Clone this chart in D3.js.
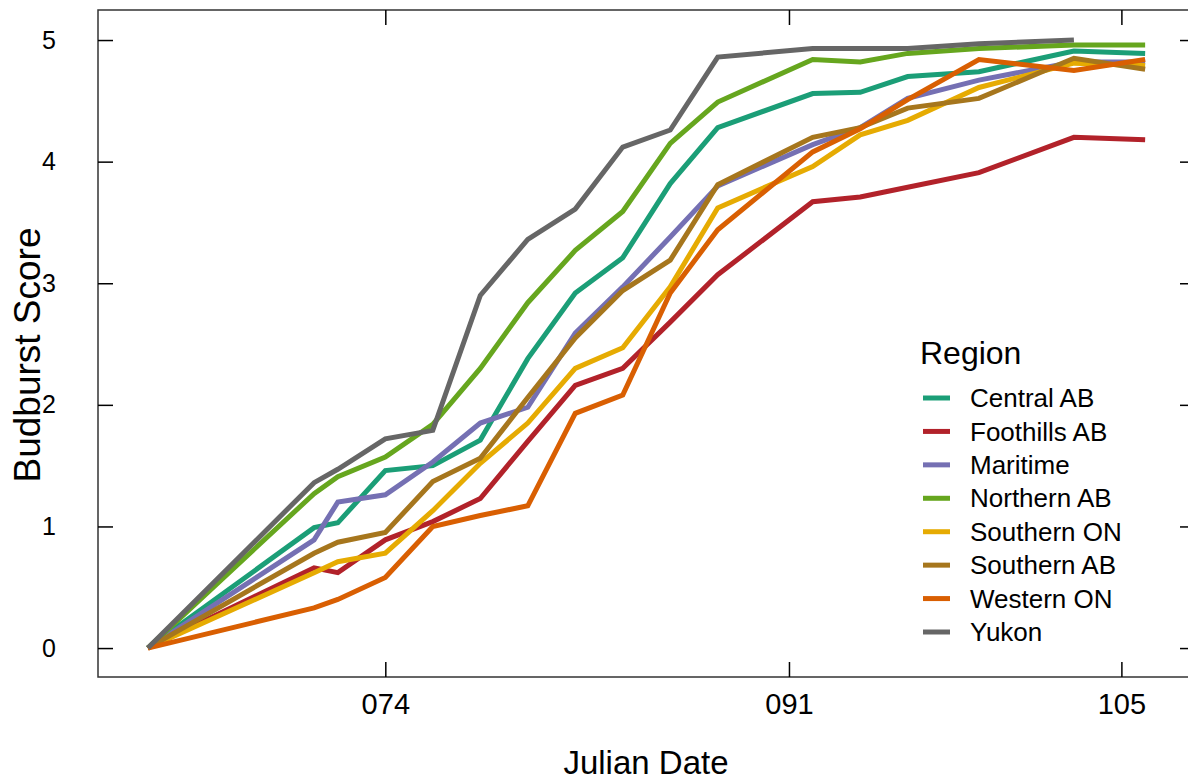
<!DOCTYPE html>
<html>
<head>
<meta charset="utf-8">
<script src="https://cdn.jsdelivr.net/npm/d3@7"></script>
<style>
  body { margin: 0; background: #fff; }
  text { font-family: "Liberation Sans", Arial, sans-serif; }
</style>
</head>
<body>
<svg id="chart"></svg>
<script>
var width = 1188;
var height = 782;
var frame = {left: 98, right: 1195, top: 10, bottom: 677};

// Julian days where budburst was scored
var days = [64, 71, 72, 74, 76, 78, 80, 82, 84, 86, 88, 92, 94, 96, 99, 103, 106];
var xTicks = [74, 91, 105];
var xTickLabels = ["074", "091", "105"];
var yTicks = [0, 1, 2, 3, 4, 5];

var regions = ["Central AB", "Foothills AB", "Maritime", "Northern AB",
               "Southern ON", "Southern AB", "Western ON", "Yukon"];
var colors = ["#1b9e77", "#b2222a", "#7570b3", "#66a61e",
              "#e6ab02", "#a6761d", "#d95f02", "#666666"];

// mean score per region, one value per day (null = not scored)
var centralAB   = [0, 0.99, 1.03, 1.46, 1.50, 1.71, 2.38, 2.92, 3.21, 3.82, 4.28, 4.56, 4.57, 4.70, 4.74, 4.91, 4.89];
var foothillsAB = [0, 0.66, 0.62, 0.89, 1.04, 1.23, 1.70, 2.16, 2.30, 2.68, 3.07, 3.67, 3.71, 3.79, 3.91, 4.20, 4.18];
var maritime    = [0, 0.89, 1.20, 1.26, 1.53, 1.85, 1.98, 2.59, 2.97, 3.38, 3.80, 4.14, 4.28, 4.52, 4.67, 4.82, 4.82];
var northernAB  = [0, 1.27, 1.41, 1.57, 1.84, 2.30, 2.84, 3.27, 3.59, 4.15, 4.49, 4.84, 4.82, 4.89, 4.93, 4.96, 4.96];
var southernON  = [0, 0.62, 0.71, 0.78, 1.13, 1.52, 1.85, 2.30, 2.47, 2.97, 3.62, 3.96, 4.22, 4.34, 4.61, 4.81, 4.79];
var southernAB  = [0, 0.78, 0.87, 0.95, 1.37, 1.56, 2.06, 2.55, 2.94, 3.19, 3.81, 4.20, 4.28, 4.44, 4.52, 4.85, 4.76];
var westernON   = [0, 0.33, 0.40, 0.58, 1.00, 1.09, 1.17, 1.93, 2.08, 2.92, 3.44, 4.08, 4.27, 4.51, 4.84, 4.75, 4.84];
var yukon       = [0, 1.36, 1.47, 1.72, 1.79, 2.90, 3.36, 3.61, 4.12, 4.26, 4.86, 4.93, 4.93, 4.93, 4.97, 5.00, null];

var seriesValues = [centralAB, foothillsAB, maritime, northernAB,
                    southernON, southernAB, westernON, yukon];

var x = d3.scaleLinear().domain([61.9, 108.1]).range([frame.left, frame.right]);
var y = d3.scaleLinear().domain([-0.238, 5.247]).range([frame.bottom, frame.top]);

var svg = d3.select("#chart").attr("width", width).attr("height", height);

// plot frame
svg.append("rect")
    .attr("x", frame.left).attr("y", frame.top)
    .attr("width", frame.right - frame.left).attr("height", frame.bottom - frame.top)
    .attr("fill", "none").attr("stroke", "#333").attr("stroke-width", 1.5);

// axes, ticks pointing inward
var tickLen = 15;
svg.append("g").attr("transform", "translate(0," + frame.bottom + ")")
    .call(d3.axisBottom(x).tickValues(xTicks).tickSizeInner(-tickLen).tickSizeOuter(0)
        .tickPadding(16).tickFormat(function (d, i) { return xTickLabels[i]; }))
    .call(function (g) {
        g.select(".domain").remove();
        g.selectAll("line").attr("stroke", "#000").attr("stroke-width", 1.5);
        g.selectAll("text").attr("font-size", 29).attr("fill", "#000");
    });
svg.append("g").attr("transform", "translate(0," + frame.top + ")")
    .call(d3.axisTop(x).tickValues(xTicks).tickSizeInner(-tickLen).tickSizeOuter(0).tickFormat(""))
    .call(function (g) {
        g.select(".domain").remove();
        g.selectAll("line").attr("stroke", "#000").attr("stroke-width", 1.5);
    });
svg.append("g").attr("transform", "translate(" + frame.left + ",0)")
    .call(d3.axisLeft(y).tickValues(yTicks).tickSizeInner(-tickLen).tickSizeOuter(0)
        .tickPadding(42).tickFormat(d3.format("d")))
    .call(function (g) {
        g.select(".domain").remove();
        g.selectAll("line").attr("stroke", "#000").attr("stroke-width", 1.5);
        g.selectAll("text").attr("font-size", 25).attr("fill", "#000");
    });
svg.append("g").attr("transform", "translate(" + frame.right + ",0)")
    .call(d3.axisRight(y).tickValues(yTicks).tickSizeInner(-tickLen).tickSizeOuter(0).tickFormat(""))
    .call(function (g) {
        g.select(".domain").remove();
        g.selectAll("line").attr("stroke", "#000").attr("stroke-width", 1.5);
    });

// axis titles
svg.append("text")
    .attr("x", 646).attr("y", 774)
    .attr("text-anchor", "middle").attr("font-size", 33)
    .text("Julian Date");
svg.append("text")
    .attr("transform", "translate(40,355) rotate(-90)")
    .attr("text-anchor", "middle").attr("font-size", 37)
    .text("Budburst Score");

// lines
var line = d3.line()
    .defined(function (d) { return d.v !== null; })
    .x(function (d) { return x(d.day); })
    .y(function (d) { return y(d.v); });

seriesValues.forEach(function (vals, i) {
    var pts = days.map(function (day, j) { return {day: day, v: vals[j]}; });
    svg.append("path")
        .datum(pts)
        .attr("fill", "none")
        .attr("stroke", colors[i])
        .attr("stroke-width", 5)
        .attr("stroke-linejoin", "miter")
        .attr("d", line);
});

// legend
var legend = svg.append("g");
legend.append("text").attr("x", 920).attr("y", 364)
    .attr("font-size", 32).text("Region");
var rowY = d3.scaleLinear().domain([0, 7]).range([398, 632]);
regions.forEach(function (r, i) {
    legend.append("line")
        .attr("x1", 923).attr("x2", 950)
        .attr("y1", rowY(i)).attr("y2", rowY(i))
        .attr("stroke", colors[i]).attr("stroke-width", 5);
    legend.append("text")
        .attr("x", 970).attr("y", rowY(i)).attr("dy", "0.35em")
        .attr("font-size", 26).text(r);
});
</script>
</body>
</html>
